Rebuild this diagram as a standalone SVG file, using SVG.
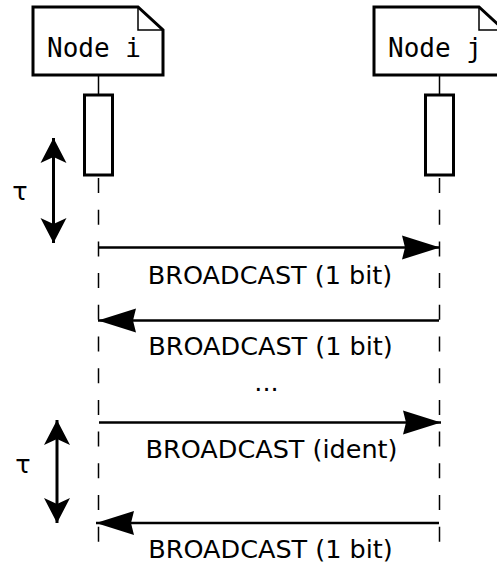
<svg xmlns="http://www.w3.org/2000/svg" width="497" height="564" viewBox="0 0 497 564">
<style>
.box{fill:#fff;stroke:#000;stroke-width:3;stroke-linejoin:miter}
.fold{fill:none;stroke:#000;stroke-width:1.5}
.act{fill:#fff;stroke:#000;stroke-width:3}
.life{stroke:#000;stroke-width:1.5;fill:none}
.dash{stroke-dasharray:15 16.7}
.msg{stroke:#000;stroke-width:2.5;fill:none;marker-end:url(#ah)}
.tau{stroke:#000;stroke-width:3;fill:none;marker-start:url(#th);marker-end:url(#th)}
.name{font-family:"DejaVu Sans Mono",monospace;font-size:26px;fill:#000}
.lbl{font-family:"DejaVu Sans",sans-serif;font-size:25.5px;fill:#000;text-anchor:middle}
</style>
<defs>
<marker id="ah" markerUnits="userSpaceOnUse" viewBox="-40 -14 42 28" markerWidth="42" markerHeight="28" refX="0" refY="0" orient="auto">
<path d="M0,0 L-38,-12 L-35,0 L-38,12 Z" fill="#000"/>
</marker>
<marker id="th" markerUnits="userSpaceOnUse" viewBox="-27 -15 29 30" markerWidth="29" markerHeight="30" refX="0" refY="0" orient="auto-start-reverse">
<path d="M0,0 L-25,-13 L-19,0 L-25,13 Z" fill="#000"/>
</marker>
</defs>
<rect width="497" height="564" fill="#fff"/>
<g id="lifelines">
<line class="life" x1="98.5" y1="75" x2="98.5" y2="95"/>
<line class="life dash" x1="98.5" y1="178" x2="98.5" y2="543"/>
<line class="life" x1="439.5" y1="75" x2="439.5" y2="95"/>
<line class="life dash" x1="439.5" y1="178" x2="439.5" y2="543"/>
</g>
<g id="node-i">
<path class="box" d="M33,7 H138 L163,30 V75 H33 Z"/>
<path class="fold" d="M138,7 V30 H163"/>
<text class="name" x="47" y="57">Node i</text>
<rect class="act" x="84.5" y="95" width="28" height="80"/>
</g>
<g id="node-j">
<path class="box" d="M374,7 H479 L504,30 V75 H374 Z"/>
<path class="fold" d="M479,7 V30 H504"/>
<text class="name" x="388" y="57">Node j</text>
<rect class="act" x="425.5" y="95" width="28" height="80"/>
</g>
<g id="connectors">
<line class="msg" x1="99" y1="247.5" x2="440" y2="247.5"/>
<line class="msg" x1="439" y1="320.5" x2="98" y2="320.5"/>
<line class="msg" x1="99" y1="422.5" x2="441" y2="422.5"/>
<line class="msg" x1="439" y1="523" x2="96" y2="523"/>
<line class="tau" x1="53.5" y1="138" x2="53.5" y2="243"/>
<line class="tau" x1="57" y1="420" x2="57" y2="523"/>
</g>
<g id="labels">
<text class="lbl" x="270" y="284">BROADCAST (1 bit)</text>
<text class="lbl" x="270.5" y="355">BROADCAST (1 bit)</text>
<text class="lbl" x="266.5" y="391">...</text>
<text class="lbl" x="271.5" y="458">BROADCAST (ident)</text>
<text class="lbl" x="270.5" y="558">BROADCAST (1 bit)</text>
<text class="lbl" x="20" y="200">τ</text>
<text class="lbl" x="23" y="473">τ</text>
</g>
</svg>
